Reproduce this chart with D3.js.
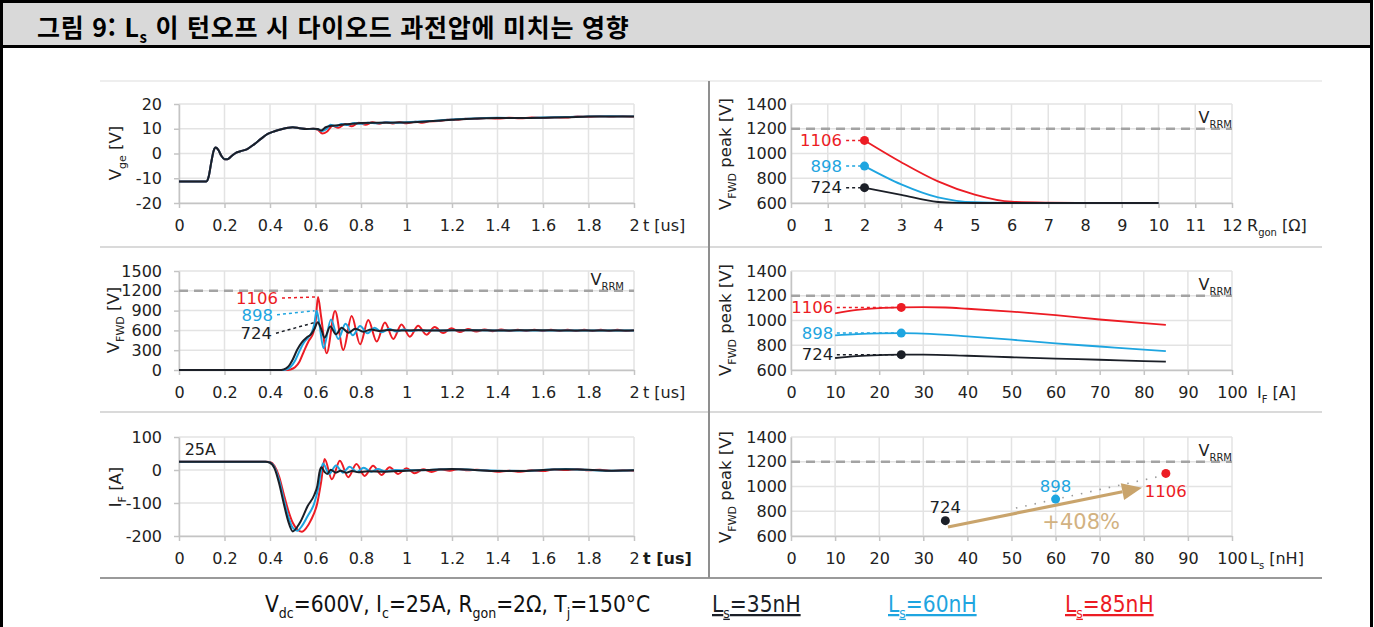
<!DOCTYPE html>
<html lang="ko">
<head>
<meta charset="utf-8">
<title>그림 9</title>
<script src="https://cdn.jsdelivr.net/npm/d3@7/dist/d3.min.js"></script>
<style>
html,body{margin:0;padding:0;background:#fff;}
svg{display:block;}
</style>
</head>
<body>
<svg id="fig" width="1374" height="627"></svg>
<script>
// ---------- tick values ----------
const tTicks = [0, 0.2, 0.4, 0.6, 0.8, 1, 1.2, 1.4, 1.6, 1.8, 2];
const tTickLabels = ["0", "0.2", "0.4", "0.6", "0.8", "1", "1.2", "1.4", "1.6", "1.8", "2"];
const vgeTicks = [-20, -10, 0, 10, 20];
const vfwdTicks = [0, 300, 600, 900, 1200, 1500];
const ifTicks = [-200, -100, 0, 100];
const peakTicks = [600, 800, 1000, 1200, 1400];
const rgonTicks = [0, 1, 2, 3, 4, 5, 6, 7, 8, 9, 10, 11, 12];
const currentTicks = [0, 10, 20, 30, 40, 50, 60, 70, 80, 90, 100];
const lsTicks = [0, 10, 20, 30, 40, 50, 60, 70, 80, 90, 100];

// ---------- test conditions ----------
const seriesLs = [35, 60, 85];            // nH, black / blue / red
const peakValues = [724, 898, 1106];      // V_FWD peak at Rgon = 2 ohm, IF = 25 A
const peakTimes = [0.61, 0.605, 0.611];   // us
const vrrm = 1200;
const growthLabel = "+408%";
const currentLabel = "25A";

// ---------- V_ge(t) ----------
const vgeRise = [[0,-11.3],[0.12,-11.3],[0.13,-9.5],[0.142,-3.5],[0.152,1],[0.161,2.4],[0.172,1.6],[0.186,-0.9],[0.2,-2.3],[0.213,-2.3],[0.23,-1.1],[0.25,0.3],[0.27,0.9],[0.3,1.8],[0.33,3.7],[0.36,5.9],[0.39,7.9],[0.42,9],[0.45,9.8],[0.48,10.4],[0.5,10.6],[0.53,10.2],[0.56,9.9],[0.59,10]];
const vgeBlackTail = [[0.61,9.9],[0.625,9.3],[0.645,10.6],[0.67,11.2],[0.7,11.4],[0.73,11.8],[0.76,12],[0.8,12.3],[0.85,12.4],[0.9,12.4],[0.95,12.5],[1.0,12.5],[1.1,13],[1.2,13.6],[1.3,14.1],[1.4,14.3],[1.5,14.3],[1.6,14.4],[1.7,14.6],[1.8,14.9],[1.9,15],[2.0,14.9]];
const vgeBlueTail = [[0.61,9.8],[0.63,9.1],[0.65,10],[0.665,11.6],[0.69,11],[0.715,11.9],[0.74,11.5],[0.77,12.3],[0.8,12],[0.83,12.4],[0.87,12.2],[0.91,12.6],[0.95,12.4],[1.0,12.6],[1.1,13.1],[1.2,13.7],[1.3,14.1],[1.4,14.4],[1.5,14.3],[1.6,14.5],[1.7,14.7],[1.8,15],[1.9,15.1],[2.0,15]];
const vgeRedTail = [[0.61,9.6],[0.63,8.1],[0.65,8.8],[0.675,11.2],[0.7,10.4],[0.73,11.9],[0.76,11],[0.79,12.4],[0.82,11.6],[0.85,12.6],[0.88,12],[0.91,12.7],[0.94,12.1],[0.97,12.7],[1.0,12.2],[1.04,12.8],[1.07,12.4],[1.1,13],[1.14,13.1],[1.18,13.6],[1.22,13.6],[1.26,14],[1.3,13.9],[1.35,14.3],[1.4,14.1],[1.45,14.4],[1.5,14.2],[1.55,14.5],[1.6,14.3],[1.65,14.6],[1.7,14.5],[1.75,14.9],[1.8,14.8],[1.85,15.1],[1.9,14.9],[1.95,15.1],[2.0,14.9]];

// ---------- V_FWD(t) ----------
const vfwdBlack = [[0,0],[0.44,0],[0.46,8],[0.48,50],[0.5,160],[0.52,310],[0.54,420],[0.56,490],[0.58,540],[0.595,620],[peakTimes[0],peakValues[0]],[0.622,650],[0.64,490],[0.665,660],[0.69,540],[0.715,640],[0.745,565],[0.775,625],[0.81,580],[0.845,612],[0.88,592],[0.92,606],[0.97,597],[1.03,603],[1.1,599],[1.2,601],[1.4,600],[1.6,601],[1.8,599],[2.0,600]];
const vfwdBlue = [[0,0],[0.45,0],[0.47,8],[0.49,45],[0.51,140],[0.53,290],[0.55,420],[0.57,500],[0.585,580],[0.595,700],[peakTimes[1],peakValues[1]],[0.617,700],[0.635,330],[0.668,765],[0.7,470],[0.732,700],[0.764,525],[0.796,665],[0.828,555],[0.86,640],[0.892,572],[0.924,625],[0.956,583],[0.988,614],[1.02,591],[1.052,607],[1.084,595],[1.116,604],[1.15,598],[1.2,601],[1.4,600],[2.0,600]];
const vfwdRed = [[0,0],[0.47,0],[0.49,8],[0.51,40],[0.53,130],[0.55,290],[0.57,440],[0.59,560],[0.6,720],[peakTimes[2],peakValues[2]],[0.625,800],[0.649,253],[0.686,894],[0.722,303],[0.759,818],[0.796,389],[0.832,757],[0.869,430],[0.905,720],[0.942,470],[0.978,690],[1.015,505],[1.051,670],[1.088,535],[1.124,650],[1.161,560],[1.197,632],[1.234,575],[1.27,620],[1.307,585],[1.343,614],[1.38,589],[1.416,612],[1.453,590],[1.489,611],[1.526,590],[1.562,611],[1.599,590],[1.635,611],[1.672,590],[1.708,611],[1.745,590],[1.781,611],[1.818,590],[1.854,611],[1.891,590],[1.927,611],[1.964,590],[2.0,604]];

// ---------- I_F(t) ----------
const ifBlack = [[0,25],[0.38,25],[0.4,22],[0.42,5],[0.44,-40],[0.46,-100],[0.48,-155],[0.5,-186],[0.52,-172],[0.535,-155],[0.565,-110],[0.595,-75],[0.608,-48],[0.618,-5],[0.626,8],[0.64,-6],[0.652,-12],[0.667,1],[0.69,-8],[0.71,-2],[0.735,-8],[0.76,-3],[0.79,-7],[0.83,-4],[0.9,-5],[1.0,-2],[1.1,0],[1.2,3],[1.3,0],[1.4,-3],[1.5,-3],[1.6,0],[1.7,2],[1.8,1],[1.9,-2],[2.0,-1]];
const ifBlue = [[0,25],[0.38,25],[0.4,23],[0.42,8],[0.44,-30],[0.46,-88],[0.48,-140],[0.5,-175],[0.52,-184],[0.54,-170],[0.565,-140],[0.595,-100],[0.612,-55],[0.625,0],[0.633,20],[0.66,-12],[0.69,14],[0.72,-8],[0.75,10],[0.782,-6],[0.812,7],[0.845,-5],[0.875,3],[0.905,-4],[0.95,0],[1.0,-1],[1.1,0],[1.2,3],[1.3,0],[1.4,-2],[1.5,-3],[1.6,0],[1.7,3],[1.8,0],[1.9,-2],[2.0,-1]];
const ifRed = [[0,25],[0.38,25],[0.4,24],[0.42,12],[0.44,-20],[0.46,-72],[0.48,-122],[0.5,-160],[0.52,-180],[0.54,-187],[0.56,-175],[0.58,-152],[0.608,-100],[0.625,-35],[0.64,33],[0.672,-28],[0.707,28],[0.744,-22],[0.78,18],[0.816,-18],[0.853,13],[0.89,-15],[0.926,8],[0.963,-12],[1.0,5],[1.036,-10],[1.073,2],[1.11,-6],[1.15,2],[1.19,-2],[1.23,3],[1.27,-1],[1.31,1],[1.36,-2],[1.4,-5],[1.45,-2],[1.5,-5],[1.55,-1],[1.6,-3],[1.65,2],[1.7,0],[1.75,3],[1.8,-1],[1.85,1],[1.9,-3],[1.95,-1],[2.0,-2]];

// ---------- V_FWD peak vs R_gon ----------
const rgonBlack = [[2,peakValues[0]],[3,665],[4,608],[4.5,601],[5,600],[6,600],[7,600],[8,600],[9,600],[10,600]];
const rgonBlue = [[2,peakValues[1]],[3,750],[4,645],[4.5,618],[5,606],[6,601],[7,600],[8,600],[9,600],[10,600]];
const rgonRed = [[2,peakValues[2]],[3,930],[4,775],[5,668],[6,610],[7,603],[8,601],[9,600],[10,600]];

// ---------- V_FWD peak vs I_F ----------
const currBlack = [[10,697],[15,712],[20,720],[25,peakValues[0]],[30,724],[40,715],[50,703],[60,692],[70,683],[80,672],[85,668]];
const currBlue = [[10,880],[15,890],[20,896],[25,peakValues[1]],[30,894],[40,872],[50,845],[60,815],[70,790],[80,765],[85,752]];
const currRed = [[10,1058],[15,1085],[20,1100],[25,peakValues[2]],[30,1108],[35,1105],[40,1095],[50,1072],[60,1043],[70,1008],[80,978],[85,965]];

// ---------- V_FWD peak vs L_s trend ----------
const lsTrend = [[51, 826], [84, 1085]];

// ---------- styling ----------
const COLORS = ["#1b1f27", "#1ea5e0", "#ec1c24"];
const FONT = "'DejaVu Sans', Verdana, sans-serif";
const INK = "#222";
const GRID = "#e3e3e3";
const AXIS = "#c4c4c4";
const VRRM_COLOR = "#a3a3a3";
const ARROW_COLOR = "#c9a46c";

const svg = d3.select("#fig");

// appends plain / subscript pieces to a text element; pieces starting with "_" are subscripts
function rich(sel, parts, size, ratio = 0.64, drop = 0.3) {
  const subSize = Math.round(size * ratio);
  const shift = size * drop;
  let inSub = false;
  parts.forEach(p => {
    const sub = p.startsWith("_");
    const ts = sel.append("tspan").text(sub ? p.slice(1) : p);
    if (sub) ts.attr("font-size", subSize);
    if (sub && !inSub) ts.attr("dy", shift);
    if (!sub && inSub) ts.attr("dy", -shift);
    inSub = sub;
  });
  return sel;
}

// ---------- page frame ----------
svg.append("rect").attr("width", 1374).attr("height", 627).attr("fill", "#fff");
svg.append("rect").attr("x", 2).attr("y", 2).attr("width", 1369).attr("height", 44).attr("fill", "#d9d9d9");
svg.append("path").attr("d", "M1.5,627V1.5H1371.5V627").attr("fill", "none").attr("stroke", "#000").attr("stroke-width", 3);
svg.append("line").attr("x1", 0).attr("x2", 1373).attr("y1", 46.5).attr("y2", 46.5).attr("stroke", "#000").attr("stroke-width", 3);

rich(svg.append("text").attr("x", 37).attr("y", 37)
  .attr("font-family", "'Noto Sans CJK KR', sans-serif").attr("font-weight", 700)
  .attr("font-size", 25).attr("letter-spacing", 0.75).attr("fill", "#000"),
  ["그림 9: L", "_s", " 이 턴오프 시 다이오드 과전압에 미치는 영향"], 25, 0.6, 0.25);

// panel separators
svg.append("line").attr("x1", 100).attr("x2", 1322).attr("y1", 81).attr("y2", 81).attr("stroke", "#eeeeee").attr("stroke-width", 2);
[247, 412].forEach(yy => svg.append("line").attr("x1", 100).attr("x2", 1322).attr("y1", yy).attr("y2", yy).attr("stroke", "#dadada").attr("stroke-width", 2));
svg.append("line").attr("x1", 100).attr("x2", 1322).attr("y1", 578).attr("y2", 578).attr("stroke", "#9a9a9a").attr("stroke-width", 2);
svg.append("line").attr("x1", 709).attr("x2", 709).attr("y1", 81).attr("y2", 578).attr("stroke", "#8f8f8f").attr("stroke-width", 2);

// ---------- panel builder ----------
const LEFT = [179, 634], RIGHT = [791, 1232];
const ROWS = [[104, 203], [271, 370], [437, 536]];
const plain = d => String(d);

function panel(o) {
  const [x0, x1] = o.cols, [y0, y1] = o.rows;
  const x = d3.scaleLinear().domain(o.xd).range([x0, x1]);
  const y = d3.scaleLinear().domain(o.yd).range([y1, y0]);
  const g = svg.append("g");
  g.append("g").selectAll("line").data(o.xt).join("line")
    .attr("x1", d => x(d)).attr("x2", d => x(d)).attr("y1", y0).attr("y2", y1)
    .attr("stroke", GRID).attr("stroke-width", 1.5);
  g.append("g").selectAll("line").data(o.yt).join("line")
    .attr("x1", x0).attr("x2", x1).attr("y1", d => y(d)).attr("y2", d => y(d))
    .attr("stroke", GRID).attr("stroke-width", 1.5);
  const ax = g.append("g").attr("transform", `translate(0,${y1})`)
    .call(d3.axisBottom(x).tickValues(o.xt).tickFormat(o.xf || plain).tickSize(5).tickSizeOuter(0).tickPadding(11.5));
  const ay = g.append("g").attr("transform", `translate(${x0},0)`)
    .call(d3.axisLeft(y).tickValues(o.yt).tickFormat(plain).tickSize(o.ytick).tickSizeOuter(0).tickPadding(o.ypad));
  [ax, ay].forEach(a => {
    a.attr("font-family", FONT).attr("font-size", 16);
    a.select(".domain").attr("stroke", AXIS).attr("stroke-width", 1.5);
    a.selectAll(".tick line").attr("stroke", AXIS).attr("stroke-width", 1.5);
    a.selectAll(".tick text").attr("fill", INK);
  });
  return { g, x, y, x0, x1, y0, y1 };
}

function vrrmLine(p, labelEnd) {
  p.g.append("line").attr("x1", p.x0).attr("x2", p.x1).attr("y1", p.y(vrrm)).attr("y2", p.y(vrrm))
    .attr("stroke", VRRM_COLOR).attr("stroke-width", 2.5).attr("stroke-dasharray", "9,6");
  rich(p.g.append("text").attr("x", labelEnd).attr("y", p.y(vrrm) - 6).attr("text-anchor", "end")
    .attr("font-family", FONT).attr("font-size", 16).attr("fill", INK), ["V", "_RRM"], 16);
}

function curves(p, list, width) {
  const line = d3.line().x(d => p.x(d[0])).y(d => p.y(d[1])).curve(d3.curveMonotoneX);
  list.forEach(([data, color]) => p.g.append("path").datum(data).attr("d", line)
    .attr("fill", "none").attr("stroke", color).attr("stroke-width", width)
    .attr("stroke-linejoin", "round"));
}

function vTitle(cx, cy, parts) {
  rich(svg.append("text").attr("transform", `translate(${cx},${cy}) rotate(-90)`)
    .attr("text-anchor", "middle").attr("font-family", FONT).attr("font-size", 16.5).attr("fill", INK), parts, 16.5);
}

function unitLabel(xx, yy, parts, bold) {
  rich(svg.append("text").attr("x", xx).attr("y", yy).attr("font-family", FONT)
    .attr("font-size", 16).attr("font-weight", bold ? 700 : 400).attr("fill", bold ? "#1a1a1a" : INK), parts, 16);
}

const tFmt = (d, i) => tTickLabels[i];

// ---------- V_ge ----------
const pA = panel({ cols: LEFT, rows: ROWS[0], xd: [0, 2], yd: [-20, 20], xt: tTicks, yt: vgeTicks, xf: tFmt, ytick: 5, ypad: 12 });
curves(pA, [[vgeRise.concat(vgeRedTail), COLORS[2]], [vgeRise.concat(vgeBlueTail), COLORS[1]], [vgeRise.concat(vgeBlackTail), COLORS[0]]], 2);
vTitle(121, 153, ["V", "_ge", " [V]"]);
unitLabel(643, 231, ["t [us]"], false);

// ---------- V_FWD ----------
const pB = panel({ cols: LEFT, rows: ROWS[1], xd: [0, 2], yd: [0, 1500], xt: tTicks, yt: vfwdTicks, xf: tFmt, ytick: 5, ypad: 12 });
vrrmLine(pB, 624);
curves(pB, [[vfwdRed, COLORS[2]], [vfwdBlue, COLORS[1]], [vfwdBlack, COLORS[0]]], 2);
vTitle(119, 320, ["V", "_FWD", " [V]"]);
unitLabel(643, 398, ["t [us]"], false);
// peak call-outs
const calloutEnd = [272, 273, 278];
const calloutDy = [11, 4, 1];
[2, 1, 0].forEach(i => {
  const px = pB.x(peakTimes[i]), py = pB.y(peakValues[i]);
  const ly = py + calloutDy[i];
  pB.g.append("line").attr("x1", calloutEnd[i] + 4).attr("y1", ly).attr("x2", px - 2).attr("y2", py)
    .attr("stroke", COLORS[i]).attr("stroke-width", 1.5).attr("stroke-dasharray", "3,3");
  pB.g.append("text").attr("x", calloutEnd[i]).attr("y", ly).attr("dy", "0.35em").attr("text-anchor", "end")
    .attr("font-family", FONT).attr("font-size", 16.5).attr("fill", COLORS[i]).text(peakValues[i]);
});

// ---------- I_F ----------
const pC = panel({ cols: LEFT, rows: ROWS[2], xd: [0, 2], yd: [-200, 100], xt: tTicks, yt: ifTicks, xf: tFmt, ytick: 5, ypad: 12 });
curves(pC, [[ifRed, COLORS[2]], [ifBlue, COLORS[1]], [ifBlack, COLORS[0]]], 2);
vTitle(121, 487, ["I", "_F", " [A]"]);
unitLabel(643, 564, ["t [us]"], true);
pC.g.append("text").attr("x", pC.x(0.025)).attr("y", pC.y(46)).attr("font-family", FONT)
  .attr("font-size", 16).attr("fill", INK).text(currentLabel);

// ---------- right column ----------
function peakLabels(p, xAt, xFrom, xLabel) {
  [0, 1, 2].forEach(i => {
    const py = p.y(peakValues[i]);
    p.g.append("line").attr("x1", p.x(xFrom)).attr("x2", p.x(xAt)).attr("y1", py).attr("y2", py)
      .attr("stroke", COLORS[i]).attr("stroke-width", 1.5).attr("stroke-dasharray", "3,3");
    p.g.append("circle").attr("cx", p.x(xAt)).attr("cy", py).attr("r", 4.5).attr("fill", COLORS[i]);
    p.g.append("text").attr("x", p.x(xLabel)).attr("y", py).attr("dy", "0.35em").attr("text-anchor", "end")
      .attr("font-family", FONT).attr("font-size", 16.5).attr("fill", COLORS[i]).text(peakValues[i]);
  });
}

const pD = panel({ cols: RIGHT, rows: ROWS[0], xd: [0, 12], yd: [600, 1400], xt: rgonTicks, yt: peakTicks, ytick: 0, ypad: 4 });
vrrmLine(pD, 1232);
curves(pD, [[rgonRed, COLORS[2]], [rgonBlue, COLORS[1]], [rgonBlack, COLORS[0]]], 1.8);
peakLabels(pD, 2, 1.5, 1.39);
vTitle(731, 154, ["V", "_FWD", " peak [V]"]);
unitLabel(1247, 231, ["R", "_gon", " [Ω]"], false);

const pE = panel({ cols: RIGHT, rows: ROWS[1], xd: [0, 100], yd: [600, 1400], xt: currentTicks, yt: peakTicks, ytick: 0, ypad: 4 });
vrrmLine(pE, 1232);
curves(pE, [[currRed, COLORS[2]], [currBlue, COLORS[1]], [currBlack, COLORS[0]]], 1.8);
peakLabels(pE, 25, 10.4, 9.6);
vTitle(731, 320, ["V", "_FWD", " peak [V]"]);
unitLabel(1257, 398, ["I", "_F", " [A]"], false);

const pF = panel({ cols: RIGHT, rows: ROWS[2], xd: [0, 100], yd: [600, 1400], xt: lsTicks, yt: peakTicks, ytick: 0, ypad: 4 });
vrrmLine(pF, 1232);
vTitle(731, 487, ["V", "_FWD", " peak [V]"]);
unitLabel(1250, 564, ["L", "_s", " [nH]"], false);
// faint trend through the measurements
pF.g.append("path").datum(lsTrend).attr("d", d3.line().x(d => pF.x(d[0])).y(d => pF.y(d[1])))
  .attr("fill", "none").attr("stroke", "#9a9a9a").attr("stroke-width", 1.6).attr("stroke-dasharray", "1.5,8");
// growth arrow
{
  const ax0 = pF.x(35.6), ay0 = pF.y(673), ax1 = pF.x(79.6), ay1 = pF.y(990);
  const ang = Math.atan2(ay1 - ay0, ax1 - ax0);
  const hl = 20, hw = 8.5;
  const bx = ax1 - hl * Math.cos(ang), by = ay1 - hl * Math.sin(ang);
  pF.g.append("line").attr("x1", ax0).attr("y1", ay0).attr("x2", bx).attr("y2", by)
    .attr("stroke", ARROW_COLOR).attr("stroke-width", 3.2);
  const nx = -Math.sin(ang), ny = Math.cos(ang);
  pF.g.append("polygon").attr("points", [[ax1, ay1], [bx + nx * hw, by + ny * hw], [bx - nx * hw, by - ny * hw]].map(p => p.join(",")).join(" "))
    .attr("fill", ARROW_COLOR);
  pF.g.append("text").attr("x", pF.x(57)).attr("y", pF.y(660)).attr("font-family", FONT)
    .attr("font-size", 21).attr("fill", "#d2b282").text(growthLabel);
}
// measured peaks
const lsLabelDy = [-13, -13, 18];
[0, 1, 2].forEach(i => {
  const cx = pF.x(seriesLs[i]), cy = pF.y(peakValues[i]);
  pF.g.append("circle").attr("cx", cx).attr("cy", cy).attr("r", 4.5).attr("fill", COLORS[i]);
  pF.g.append("text").attr("x", cx).attr("y", cy + lsLabelDy[i]).attr("dy", "0.35em").attr("text-anchor", "middle")
    .attr("font-family", FONT).attr("font-size", 16.5).attr("fill", COLORS[i]).text(peakValues[i]);
});

// ---------- legend / conditions ----------
const LEG_FONT = "'DejaVu Sans Condensed', 'Liberation Sans Narrow', sans-serif";
rich(svg.append("text").attr("x", 265).attr("y", 612).attr("font-family", LEG_FONT)
  .attr("font-size", 22.5).attr("fill", "#111"),
  ["V", "_dc", "=600V, I", "_c", "=25A, R", "_gon", "=2Ω, T", "_j", "=150°C"], 22.5, 0.6, 0.25);
const legendX = [712, 888, 1065];
[0, 1, 2].forEach(i => {
  rich(svg.append("text").attr("x", legendX[i]).attr("y", 612).attr("font-family", LEG_FONT)
    .attr("font-size", 22.5).attr("fill", COLORS[i]).style("text-decoration", "underline"),
    ["L", "_s", `=${seriesLs[i]}nH`], 22.5, 0.6, 0.25);
});
</script>
</body>
</html>
